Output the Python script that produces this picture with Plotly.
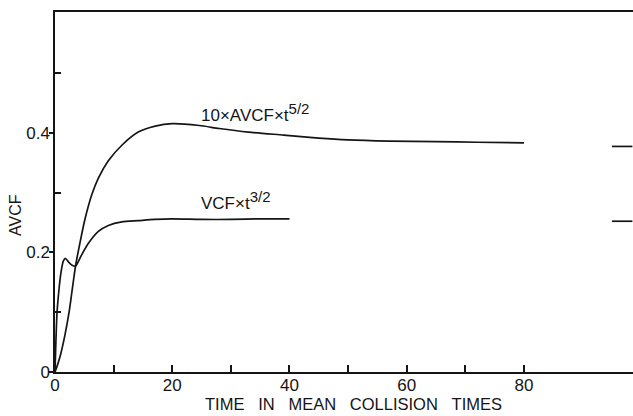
import plotly.graph_objects as go

# Data
t_avcf = [0, 0.5, 1, 1.7, 2.4, 2.9, 3.5, 4.3, 5.1, 6.3, 7.4, 9.1, 11.4, 14.2, 17.1, 20, 24.6, 28, 33, 39,
          45, 50, 57, 65, 72, 80]
y_avcf = [0, 0.014, 0.031, 0.062, 0.1, 0.135, 0.177, 0.218, 0.255, 0.297, 0.324, 0.353, 0.379, 0.401, 0.411,
          0.415, 0.412, 0.407, 0.401, 0.396, 0.391, 0.388, 0.386, 0.385, 0.384, 0.383]

t_vcf = [0, 0.15, 0.35, 0.7, 1.05, 1.4, 1.75, 2.3, 2.85, 3.5, 4.5, 5.7, 7.4, 9.1, 11.4, 14.2, 17, 20, 25,
         30, 35, 40]
y_vcf = [0, 0.05, 0.1, 0.14, 0.168, 0.185, 0.19, 0.184, 0.179, 0.177, 0.195, 0.215, 0.235, 0.245, 0.251,
         0.253, 0.255, 0.256, 0.255, 0.255, 0.256, 0.256]

# asymptotic values marked on the right edge
asym_t = [95, 98.5]
asym_values = [0.377, 0.252]

x_tickvals = [0, 20, 40, 60, 80]
x_minor = [10, 30, 50, 70]
y_tickvals = [0, 0.2, 0.4]
y_ticklabels = ["0", "0.2", "0.4"]
y_minor = [0.1, 0.3, 0.5]

line_col = "#151515"
font = "Liberation Sans, Arial, sans-serif"

fig = go.Figure()
fig.add_trace(go.Scatter(x=t_avcf, y=y_avcf, mode="lines",
                         line=dict(color=line_col, width=1.7, shape="spline", smoothing=0.7),
                         showlegend=False, hoverinfo="skip"))
fig.add_trace(go.Scatter(x=t_vcf, y=y_vcf, mode="lines",
                         line=dict(color=line_col, width=1.7, shape="spline", smoothing=0.7),
                         showlegend=False, hoverinfo="skip"))
for v in asym_values:
    fig.add_trace(go.Scatter(x=asym_t, y=[v, v], mode="lines", line=dict(color=line_col, width=1.7),
                             showlegend=False, hoverinfo="skip"))

sup_style = "font-size:15px"
fig.add_annotation(x=24.6, y=0.433, xref="x", yref="y",
                   text=f"10×AVCF×t<sup><span style='{sup_style}'>5/2</span></sup>",
                   showarrow=False, xanchor="left", yanchor="middle",
                   font=dict(family=font, size=17, color=line_col))
fig.add_annotation(x=24.6, y=0.287, xref="x", yref="y",
                   text=f"VCF×t<sup><span style='{sup_style}'>3/2</span></sup>",
                   showarrow=False, xanchor="left", yanchor="middle",
                   font=dict(family=font, size=17, color=line_col))
gap = "\u00a0" * 3
fig.add_annotation(x=353, y=404, xref="paper", yref="paper",
                   text=gap.join(["TIME", "IN", "MEAN", "COLLISION", "TIMES"]),
                   showarrow=False, xanchor="center", yanchor="middle",
                   font=dict(family=font, size=16.5, color=line_col))
fig.add_annotation(x=15, y=215, xref="paper", yref="paper", text="AVCF", textangle=-90,
                   showarrow=False, xanchor="center", yanchor="middle",
                   font=dict(family=font, size=16, color=line_col))

# convert pixel-placed annotations to paper coordinates
W, H = 633, 416
L, R, T, B = 55, 0, 12, 44
pw, ph = W - L - R, H - T - B
for a in fig.layout.annotations:
    if a.xref == "paper":
        a.x = (a.x - L) / pw
        a.y = (H - B - a.y) / ph

fig.update_layout(
    width=W, height=H,
    margin=dict(l=L, r=R, t=T, b=B, autoexpand=False),
    paper_bgcolor="white", plot_bgcolor="white",
    font=dict(family=font, size=17, color=line_col),
    xaxis=dict(range=[0, 98.6], showgrid=False, zeroline=False, showline=True, linecolor=line_col, linewidth=1.5,
               mirror=True, ticks="inside", ticklen=7, tickwidth=1.5, tickcolor=line_col, automargin=False,
               tickvals=x_tickvals, ticktext=[str(v) for v in x_tickvals], ticklabelstandoff=-3,
               minor=dict(tickvals=x_minor, ticks="inside", ticklen=7, tickwidth=1.5, tickcolor=line_col, showgrid=False),
               tickfont=dict(size=17)),
    yaxis=dict(range=[0, 0.6017], showgrid=False, zeroline=False, showline=True, linecolor=line_col, linewidth=1.5,
               mirror=False, ticks="outside", ticklen=4, tickwidth=1.5, tickcolor=line_col, automargin=False,
               tickvals=y_tickvals, ticktext=y_ticklabels, ticklabelstandoff=-4,
               minor=dict(tickvals=y_minor, ticks="inside", ticklen=6, tickwidth=1.5, tickcolor=line_col, showgrid=False),
               tickfont=dict(size=17)),
)

fig.write_html("out.html", config={"displayModeBar": False},
               post_script="document.body.style.margin='0';document.body.style.overflow='hidden';")
